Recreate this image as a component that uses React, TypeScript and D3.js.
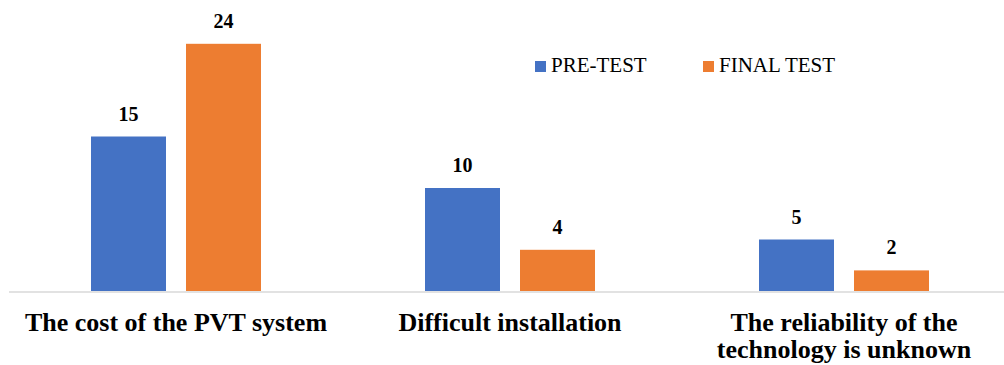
import React from "react";
import * as d3 from "d3";

const categories: string[][] = [
  ["The cost of the PVT system"],
  ["Difficult installation"],
  ["The reliability of the", "technology is unknown"],
];
const seriesNames = ["PRE-TEST", "FINAL TEST"];
const preTest = [15, 10, 5];
const finalTest = [24, 4, 2];
const colors = ["#4472C4", "#ED7D31"];

const W = 1004;
const H = 365;
const baseY = 291;

export default function App() {
  const keys = categories.map((c) => c.join(" "));
  const x = d3.scaleBand<string>().domain(keys).range([9, 1011]).paddingInner(0).paddingOuter(0);
  const inner = d3
    .scaleBand<string>()
    .domain(seriesNames)
    .range([82, x.bandwidth() - 82])
    .paddingInner(20 / 95)
    .paddingOuter(0);
  const y = d3.scaleLinear().domain([0, 28]).range([baseY, baseY - 28 * 10.3]);
  const series = [preTest, finalTest];
  const serif =
    "'Times New Roman', Times, 'Liberation Serif', Tinos, 'Nimbus Roman', 'Noto Serif', 'DejaVu Serif', FreeSerif, serif";

  return (
    <svg
      width={W}
      height={H}
      style={{ position: "absolute", left: 0, top: 0, background: "#fff", fontFamily: serif }}
    >
      {keys.map((k, ci) => (
        <g key={k} transform={`translate(${x(k)},0)`}>
          {series.map((vals, si) => {
            const v = vals[ci];
            const bx = inner(seriesNames[si])!;
            const bw = inner.bandwidth();
            return (
              <g key={si}>
                <rect x={bx} y={y(v)} width={bw} height={baseY - y(v)} fill={colors[si]} />
                <text
                  x={bx + bw / 2}
                  y={y(v) - 16}
                  textAnchor="middle"
                  fontWeight="bold"
                  fontSize={20}
                  fill="#000"
                >
                  {v}
                </text>
              </g>
            );
          })}
          <text
            x={x.bandwidth() / 2}
            y={331}
            textAnchor="middle"
            fontWeight="bold"
            fontSize={26}
            fill="#000"
          >
            {categories[ci].map((line, li) => (
              <tspan key={li} x={x.bandwidth() / 2} dy={li === 0 ? 0 : 27}>
                {line}
              </tspan>
            ))}
          </text>
        </g>
      ))}
      <line x1={9} x2={W} y1={baseY + 1} y2={baseY + 1} stroke="#D9D9D9" strokeWidth={1.5} />
      {seriesNames.map((name, si) => {
        const lx = si === 0 ? 535 : 703;
        return (
          <g key={name}>
            <rect x={lx} y={61} width={11} height={11} fill={colors[si]} />
            <text x={lx + 16} y={72} fontSize={21} fill="#000">
              {name}
            </text>
          </g>
        );
      })}
    </svg>
  );
}
